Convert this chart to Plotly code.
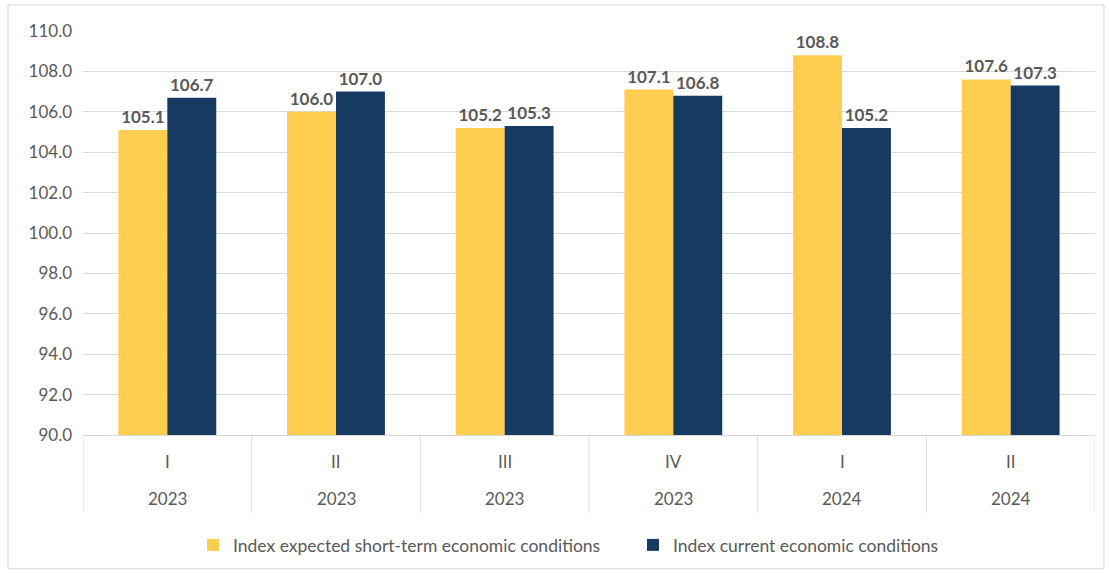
import plotly.graph_objects as go

quarters = ["I", "II", "III", "IV", "I", "II"]
years = ["2023", "2023", "2023", "2023", "2024", "2024"]
expected = [105.1, 106.0, 105.2, 107.1, 108.8, 107.6]
current = [106.7, 107.0, 105.3, 106.8, 105.2, 107.3]
y_ticks = [90, 92, 94, 96, 98, 100, 102, 104, 106, 108, 110]

names = ["Index expected short-term economic conditions", "Index current economic conditions"]
colors = ["#FFCD4F", "#173A63"]

xpos = list(range(len(quarters)))
FONT = "Lato"
GRAY = "#595959"

plot_top, plot_bot = 31, 436
H = plot_bot - plot_top
L, R = 83, 1095
W = R - L

def py(p):
    return (plot_bot - p) / H

def px(p):
    return (p - L) / W

fig = go.Figure()
for vals, name, col, lg in [(expected, names[0], colors[0], "legend"),
                            (current, names[1], colors[1], "legend2")]:
    fig.add_trace(go.Bar(
        x=xpos, y=vals, name=name, legend=lg, showlegend=True,
        marker=dict(color=col, line=dict(width=0)),
        text=[f"{v:.1f}" for v in vals], textposition="outside",
        textfont=dict(family=FONT, size=17, color=GRAY, weight="bold"),
        cliponaxis=False,
    ))

shapes = []
for i in range(len(quarters) + 1):
    shapes.append(dict(type="line", xref="x", yref="paper", x0=i - 0.5, x1=i - 0.5,
                       y0=0, y1=py(514), line=dict(color="#D9D9D9", width=1)))
shapes.append(dict(type="rect", xref="paper", yref="paper", x0=px(8), x1=px(1104),
                   y0=py(5), y1=py(570), line=dict(color="#D9D9D9", width=1)))

annotations = []
for i, (q, yr) in enumerate(zip(quarters, years)):
    annotations.append(dict(x=i, y=py(463), xref="x", yref="paper", text=q, showarrow=False,
                            font=dict(family=FONT, size=17, color=GRAY), yanchor="middle"))
    annotations.append(dict(x=i, y=py(500), xref="x", yref="paper", text=yr, showarrow=False,
                            font=dict(family=FONT, size=17, color=GRAY), yanchor="middle"))

leg_common = dict(orientation="h", y=py(545), yanchor="middle", xanchor="left",
                  font=dict(family=FONT, size=17.5, color=GRAY), itemwidth=30,
                  bgcolor="rgba(0,0,0,0)")

fig.update_layout(
    width=1109, height=574,
    margin=dict(l=L, r=1109 - R, t=plot_top, b=574 - plot_bot),
    paper_bgcolor="white", plot_bgcolor="white",
    showlegend=True,
    barmode="group", bargap=0.42, bargroupgap=0,
    font=dict(family=FONT, color=GRAY),
    xaxis=dict(range=[-0.5, len(quarters) - 0.5], showticklabels=False, ticks="",
               showgrid=False, zeroline=False, showline=True, linecolor="#D9D9D9", linewidth=1),
    yaxis=dict(range=[90, 110], tickvals=y_ticks, ticktext=[f"{v:.1f}" for v in y_ticks],
               tickfont=dict(family=FONT, size=17, color=GRAY), showgrid=True,
               gridcolor="#D9D9D9", gridwidth=1, zeroline=False, showline=False, ticks="",
               ticklabelstandoff=10),
    legend=dict(x=px(193), **leg_common),
    legend2=dict(x=px(633), **leg_common),
    shapes=shapes, annotations=annotations,
)

fig.write_html("out.html")
